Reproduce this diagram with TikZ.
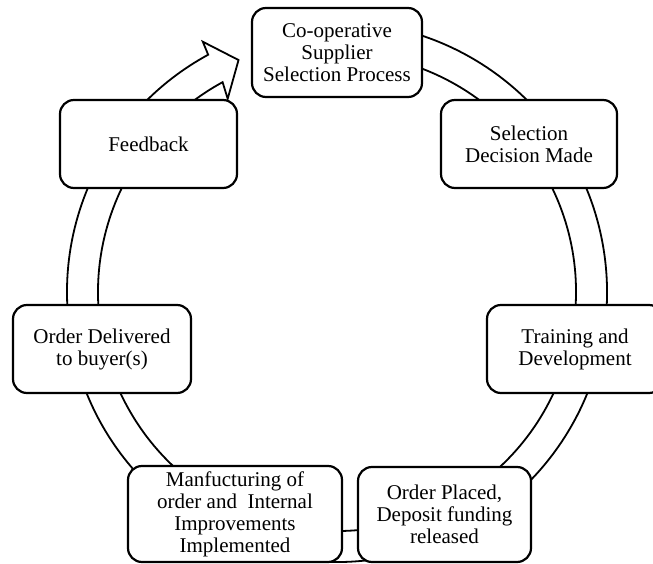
\documentclass[tikz,border=0pt]{standalone}
\usepackage{fontspec}
\setmainfont{Liberation Serif}
\usetikzlibrary{positioning}

\begin{document}
\begin{tikzpicture}[
      x=1pt,
      y=1pt,
      stage/.style={
        draw,
        fill=white,
        rounded corners=14pt,
        line width=2.2pt,
        align=center,
        inner sep=2pt,
        font=\fontsize{21}{22}\selectfont
      },
      ring/.style={
        line width=1.8pt,
        line join=miter
      }
    ]
    \useasboundingbox (0,0) rectangle (653,563);
    \coordinate (hub) at (337,271);

    \draw[ring, shift={(hub)}] (100:270) arc[start angle=100, end angle=-241.5, radius=270pt]
      -- (118.2:284) -- (113:252) -- (119.5:222) -- (118.6:239)
      arc[start angle=-241.4, end angle=100, radius=239pt] -- cycle ;

    \node[stage, minimum width=170pt, minimum height=89pt] (coop) at (337,510.5) {Co-operative\\Supplier\\Selection Process} ;
    \node[stage, minimum width=176pt, minimum height=88pt] (decision) at (529,419) {Selection\\Decision Made} ;
    \node[stage, minimum width=176pt, minimum height=88pt] (training) at (575,214) {Training and\\Development} ;
    \node[stage, minimum width=173pt, minimum height=95pt] (placed) at (444.5,48.5) {Order Placed,\\Deposit funding\\released} ;
    \node[stage, minimum width=214pt, minimum height=96pt] (making) at (235,49) {Manfucturing of\\order and \ Internal\\Improvements\\Implemented} ;
    \node[stage, minimum width=178pt, minimum height=88pt] (delivered) at (102,214) {Order Delivered\\to buyer(s)} ;
    \node[stage, minimum width=177pt, minimum height=88pt] (feedback) at (148.5,419) {Feedback} ;
  \end{tikzpicture}
\end{document}
